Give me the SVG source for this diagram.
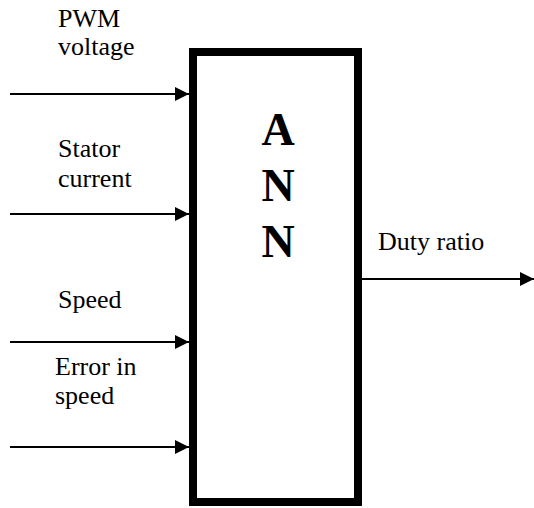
<svg xmlns="http://www.w3.org/2000/svg" width="534" height="508" viewBox="0 0 534 508">
<style>
text{font-family:'Liberation Serif','DejaVu Serif',serif;fill:#000}
.lbl{font-size:26px}
.ann{font-size:46px;font-weight:bold}
.conn{stroke:#000;stroke-width:2;fill:none}
</style>
<defs>
<marker id="arr" markerUnits="userSpaceOnUse" markerWidth="14" markerHeight="16" refX="14" refY="8" orient="auto">
<path d="M0,1 L14,8 L0,15 Z" fill="#000"/>
</marker>
</defs>
<rect width="534" height="508" fill="#fff"/>
<g id="ann-block">
<rect x="193" y="52" width="165" height="450" fill="#fff" stroke="#000" stroke-width="8"/>
<text class="ann" font-family="Liberation Serif, serif" x="278" y="145" text-anchor="middle">A</text>
<text class="ann" font-family="Liberation Serif, serif" x="278" y="201" text-anchor="middle">N</text>
<text class="ann" font-family="Liberation Serif, serif" x="278" y="257" text-anchor="middle">N</text>
</g>
<g id="connectors">
<line class="conn" x1="10" y1="94" x2="189" y2="94" marker-end="url(#arr)"/>
<line class="conn" x1="10" y1="214" x2="189" y2="214" marker-end="url(#arr)"/>
<line class="conn" x1="10" y1="342" x2="189" y2="342" marker-end="url(#arr)"/>
<line class="conn" x1="10" y1="447" x2="189" y2="447" marker-end="url(#arr)"/>
<line class="conn" x1="362" y1="279" x2="534" y2="279" marker-end="url(#arr)"/>
</g>
<g id="labels">
<text class="lbl" x="58" y="27">PWM</text>
<text class="lbl" x="58" y="55">voltage</text>
<text class="lbl" x="58" y="157">Stator</text>
<text class="lbl" x="58" y="187">current</text>
<text class="lbl" x="58" y="308">Speed</text>
<text class="lbl" x="55" y="375">Error in</text>
<text class="lbl" x="55" y="404">speed</text>
<text class="lbl" x="378" y="250">Duty ratio</text>
</g>
</svg>
